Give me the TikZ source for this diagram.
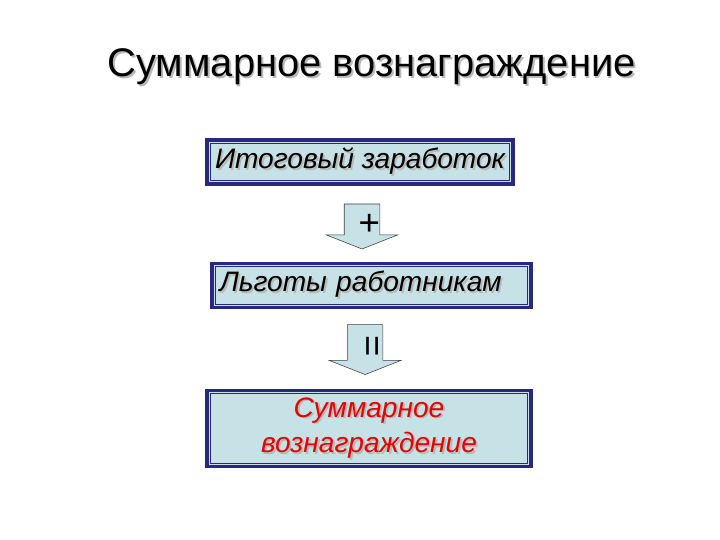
\documentclass[tikz,border=0pt]{standalone}
\usepackage{fontspec}
\setmainfont{Liberation Sans}
\usetikzlibrary{positioning,calc,shapes.arrows}
\definecolor{azulmarco}{RGB}{40,40,130}
\definecolor{celeste}{RGB}{198,226,230}
\definecolor{rojotexto}{RGB}{230,0,0}
\newcommand{\sombreado}[2]{\makebox[0pt][l]{\hspace{1.3pt}\raisebox{-1.3pt}{\textcolor{gray!55}{#2}}}\textcolor{#1}{#2}}

\begin{document}
\begin{tikzpicture}[
    caja/.style={rectangle, draw=azulmarco, line width=2.4pt, fill=celeste,
                 minimum height=1.1cm, inner sep=0pt,
                 font=\fontsize{20}{25}\selectfont\itshape,
                 append after command={
                   ($(\tikzlastnode.south west)+(3.5pt,3.5pt)$) edge[draw=azulmarco, line width=0.7pt, to path={rectangle (\tikztotarget)}]
                   ($(\tikzlastnode.north east)+(-3.5pt,-3.5pt)$)}},
    flecha/.style={single arrow, draw=black!75, fill=celeste, rotate=-90,
                   single arrow head extend=0.45cm, single arrow tip angle=137,
                   minimum height=1.125cm, text height=0.3cm, text depth=0.05cm,
                   inner ysep=0.2625cm, inner xsep=0.1cm,
                   font=\fontsize{26}{26}\selectfont}
  ]
    \useasboundingbox (0,0) rectangle (18,-13.5);
    \node (titulo) at (9.29,-1.7)
      {\fontsize{28.4}{32}\selectfont\sombreado{black}{Суммарное вознаграждение}};

    \node[caja, minimum width=7.65cm] (zarabotok) at (9.0,-4.05)
      {\sombreado{black}{Итоговый заработок}};
    \node[caja, minimum width=7.97cm, text width=7.6cm, align=left,
          below=1.9cm of zarabotok, xshift=0.2875cm] (lgoty)
      {\sombreado{black}{Льготы работникам}};
    \node[caja, minimum width=8.1cm, minimum height=1.9cm, align=center,
          below=2.0cm of lgoty, xshift=-0.0625cm] (itog)
      {\sombreado{rojotexto}{Суммарное}\\\sombreado{rojotexto}{вознаграждение}};

    \node[flecha, anchor=tail] (plus) at ($(zarabotok.south)+(0.05,-0.45)$) {+};
    \node[flecha, anchor=tail, minimum height=1.25cm] (ravno)
      at ($(lgoty.south)+(-0.16,-0.38)$) {=};
  \end{tikzpicture}
\end{document}
